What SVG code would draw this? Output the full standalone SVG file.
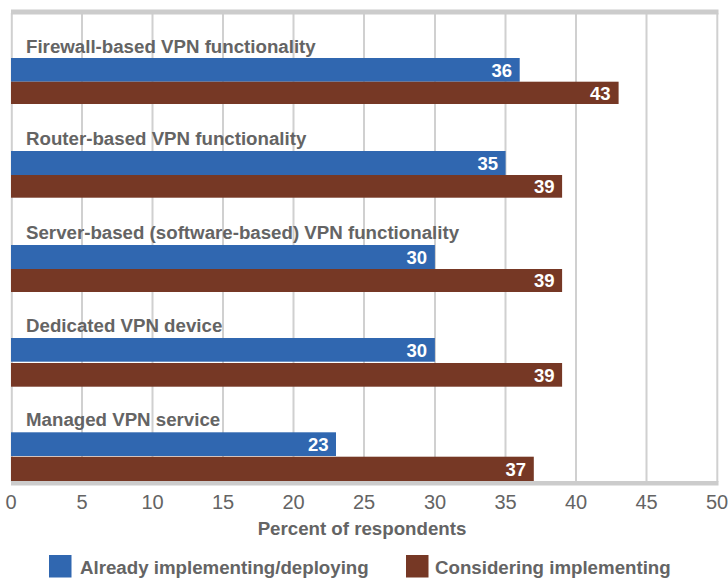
<svg xmlns="http://www.w3.org/2000/svg" width="728" height="579" viewBox="0 0 728 579">
<style>
.grid{stroke:#d0d0d0;stroke-width:2}
.cat{font-family:"Liberation Sans",Arial,sans-serif;font-weight:bold;font-size:18.7px;fill:#646464}
.val{font-family:"Liberation Sans",Arial,sans-serif;font-weight:bold;font-size:18.5px;fill:#ffffff;text-anchor:end}
.tick{font-family:"Liberation Sans",Arial,sans-serif;font-size:20px;fill:#646464;text-anchor:middle}
.ttl{font-family:"Liberation Sans",Arial,sans-serif;font-weight:bold;font-size:18.7px;fill:#646464}
.b{fill:#3067b0}
.r{fill:#763825}
</style>
<rect width="728" height="579" fill="#ffffff"/>
<g id="grid">
<line class="grid" x1="82" y1="13" x2="82" y2="482"/>
<line class="grid" x1="152.5" y1="13" x2="152.5" y2="482"/>
<line class="grid" x1="223" y1="13" x2="223" y2="482"/>
<line class="grid" x1="293.5" y1="13" x2="293.5" y2="482"/>
<line class="grid" x1="364" y1="13" x2="364" y2="482"/>
<line class="grid" x1="435" y1="13" x2="435" y2="482"/>
<line class="grid" x1="505.5" y1="13" x2="505.5" y2="482"/>
<line class="grid" x1="576" y1="13" x2="576" y2="482"/>
<line class="grid" x1="646.5" y1="13" x2="646.5" y2="482"/>
<line class="grid" x1="717.3" y1="13" x2="717.3" y2="482"/>
<line class="grid" x1="11.8" y1="13" x2="11.8" y2="482"/>
<rect x="11" y="9.5" width="707.5" height="5" fill="#cccccc"/>
<rect x="11" y="481" width="707.5" height="4.5" fill="#cccccc"/>
</g>
<g id="cat-firewall">
<text class="cat" x="26" y="52.5">Firewall-based VPN functionality</text>
<rect class="b" x="11" y="58" width="508.7" height="23.7"/>
<rect class="r" x="11" y="81.7" width="607.6" height="22.3"/>
<text class="val" x="512" y="77">36</text>
<text class="val" x="610.5" y="99.5">43</text>
</g>
<g id="cat-router">
<text class="cat" x="26" y="145">Router-based VPN functionality</text>
<rect class="b" x="11" y="151" width="494.6" height="24"/>
<rect class="r" x="11" y="175" width="551.1" height="22.7"/>
<text class="val" x="498" y="170">35</text>
<text class="val" x="554.5" y="193">39</text>
</g>
<g id="cat-server">
<text class="cat" x="26" y="239">Server-based (software-based) VPN functionality</text>
<rect class="b" x="11" y="245" width="423.9" height="24"/>
<rect class="r" x="11" y="269" width="551.1" height="23"/>
<text class="val" x="427" y="264">30</text>
<text class="val" x="554.5" y="287">39</text>
</g>
<g id="cat-dedicated">
<text class="cat" x="26" y="332">Dedicated VPN device</text>
<rect class="b" x="11" y="338" width="423.9" height="23.7"/>
<rect class="r" x="11" y="363" width="551.1" height="23.7"/>
<text class="val" x="427" y="357">30</text>
<text class="val" x="554.5" y="381.5">39</text>
</g>
<g id="cat-managed">
<text class="cat" x="26" y="426">Managed VPN service</text>
<rect class="b" x="11" y="432.3" width="325" height="23.7"/>
<rect class="r" x="11" y="456.7" width="522.8" height="24.3"/>
<text class="val" x="328.5" y="451">23</text>
<text class="val" x="526" y="476">37</text>
</g>
<g id="axis">
<text class="tick" x="11" y="509">0</text>
<text class="tick" x="82" y="509">5</text>
<text class="tick" x="152.5" y="509">10</text>
<text class="tick" x="223" y="509">15</text>
<text class="tick" x="293.5" y="509">20</text>
<text class="tick" x="364" y="509">25</text>
<text class="tick" x="435" y="509">30</text>
<text class="tick" x="505.5" y="509">35</text>
<text class="tick" x="576" y="509">40</text>
<text class="tick" x="646.5" y="509">45</text>
<text class="tick" x="717" y="509">50</text>
<text class="ttl" x="362" y="535" text-anchor="middle">Percent of respondents</text>
</g>
<g id="legend">
<rect class="b" x="49" y="555" width="22.5" height="22.5"/>
<text class="ttl" x="80" y="574">Already implementing/deploying</text>
<rect class="r" x="406" y="555" width="22.5" height="22.5"/>
<text class="ttl" x="435" y="574">Considering implementing</text>
</g>
</svg>
